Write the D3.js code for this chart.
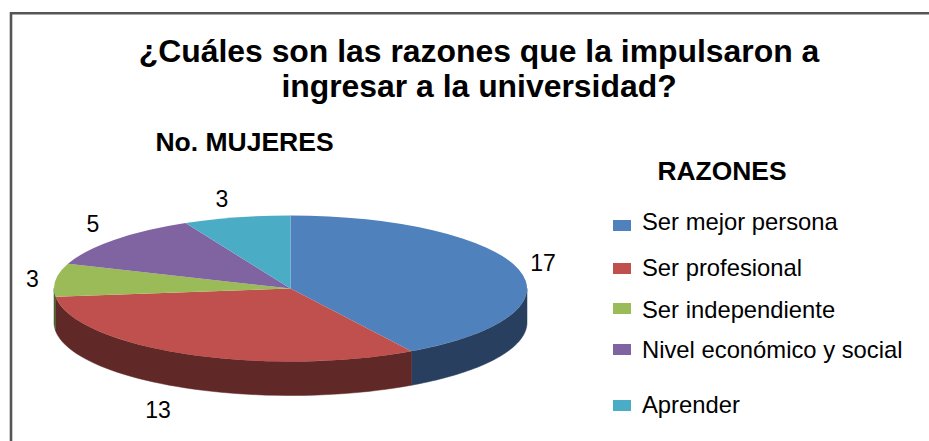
<!DOCTYPE html>
<html><head><meta charset="utf-8">
<script src="https://cdn.jsdelivr.net/npm/d3@7/dist/d3.min.js"></script>
<style>html,body{margin:0;padding:0;background:#fff}svg{display:block}text{font-family:"Liberation Sans",Arial,sans-serif;fill:#000}</style>
</head><body><svg id="c" width="929" height="441"></svg>
<script>
const categories=["Ser mejor persona","Ser profesional","Ser independiente","Nivel económico y social","Aprender"];
const values=[17,13,3,5,3];
const topColors=["#4f81bd","#c0504d","#9bbb59","#8064a2","#4bacc6"];
const sideColors=["#283f5f","#602827","#4e5d2c","#403251","#265663"];
const titleLines=["¿Cuáles son las razones que la impulsaron a","ingresar a la universidad?"];
const svg=d3.select("#c");
const W=929,H=441;
svg.append("rect").attr("width",W).attr("height",H).attr("fill","#fff");
svg.append("path").attr("d","M11,441V13.2H929").attr("fill","none").attr("stroke","#555").attr("stroke-width",2.6);
const cx=290.5,cy=288.5,rx=236.5,ry=73,depth=34;
const pie=d3.pie().sort(null).value(d=>d.v)(values.map((v,i)=>({v,i})));
const P=(a,dy=0)=>[cx+rx*Math.sin(a),cy-ry*Math.cos(a)+dy];
const g=svg.append("g");
// side walls: visible front half only
pie.forEach(s=>{
  const a0=Math.max(s.startAngle,Math.PI/2),a1=Math.min(s.endAngle,Math.PI*1.5);
  if(a1<=a0)return;
  const t=d3.scaleLinear().domain([0,1]).range([a0,a1]);
  const ts=d3.range(0,1.0001,0.02).map(t);
  const pts=ts.map(a=>P(a)).concat(ts.slice().reverse().map(a=>P(a,depth)));
  g.append("path").attr("d",d3.line()(pts)+"Z").attr("fill",sideColors[s.data.i]).attr("stroke",sideColors[s.data.i]).attr("stroke-width",0.5);
});
// top faces
const arc=d3.arc().innerRadius(0).outerRadius(rx);
g.append("g").attr("transform",`translate(${cx},${cy}) scale(1,${ry/rx})`)
 .selectAll("path").data(pie).join("path").attr("d",arc)
 .attr("fill",d=>topColors[d.data.i]);
// titles
svg.append("g").selectAll("text").data(titleLines).join("text")
 .attr("x",479).attr("y",(d,i)=>62+i*35).attr("text-anchor","middle")
 .attr("font-size",31.9).attr("font-weight","bold").text(d=>d);
svg.append("text").attr("x",244.5).attr("y",151).attr("text-anchor","middle").attr("font-size",26.5).attr("font-weight","bold").text("No. MUJERES");
svg.append("text").attr("x",722).attr("y",180).attr("text-anchor","middle").attr("font-size",26.4).attr("font-weight","bold").text("RAZONES");
// data labels
const labelPos=[[543,271],[158,418],[32.5,287],[93,232],[222,207]];
svg.append("g").selectAll("text").data(values).join("text")
 .attr("x",(d,i)=>labelPos[i][0]).attr("y",(d,i)=>labelPos[i][1]).attr("text-anchor","middle")
 .attr("font-size",23).text(d=>d);
// legend
const swY=[220,263,303,344,400];
const tY=[230,276,318,358,413];
const leg=svg.append("g").selectAll("g").data(categories).join("g");
leg.append("rect").attr("x",613).attr("y",(d,i)=>swY[i]).attr("width",18).attr("height",11).attr("fill",(d,i)=>topColors[i]);
leg.append("text").attr("x",642).attr("y",(d,i)=>tY[i]).attr("font-size",23.8).text(d=>d);
</script></body></html>
